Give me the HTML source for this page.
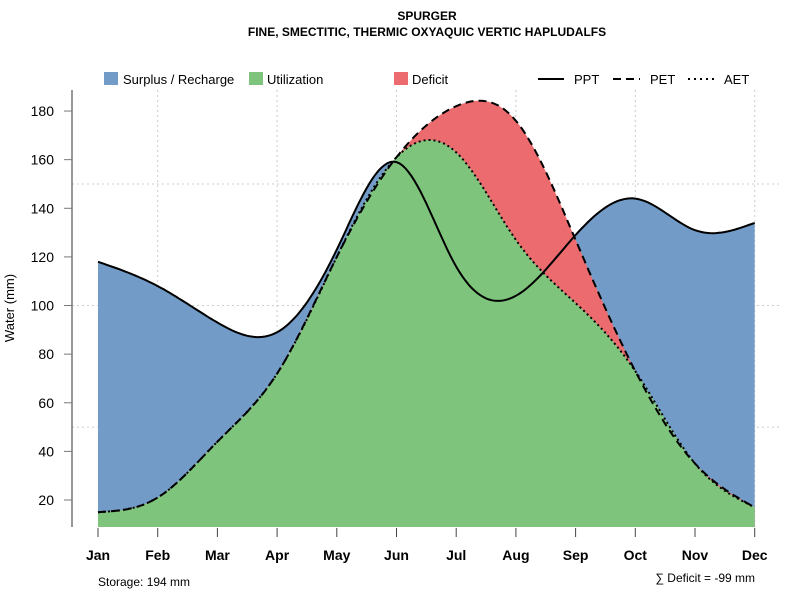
<!DOCTYPE html>
<html><head><meta charset="utf-8"><style>
body{margin:0;background:#fff;}
svg{display:block;font-family:"Liberation Sans",sans-serif;}
</style></head><body>
<svg id="chart" width="800" height="600">
<text x="427" y="20" text-anchor="middle" font-size="12" font-weight="bold">SPURGER</text>
<text x="427" y="36" text-anchor="middle" font-size="12" font-weight="bold">FINE, SMECTITIC, THERMIC OXYAQUIC VERTIC HAPLUDALFS</text>
<g id="grid"></g>
<g id="areas"></g>
<g id="lines"></g>
<g id="axes"></g>
<g font-size="13">
<rect x="104" y="72" width="14" height="13" fill="#729bc8"/>
<text x="123" y="84">Surplus / Recharge</text>
<rect x="249" y="72" width="14" height="13" fill="#7fc47c"/>
<text x="267" y="84">Utilization</text>
<rect x="394" y="72" width="14" height="13" fill="#ec6b6e"/>
<text x="412" y="84">Deficit</text>
<line x1="538" y1="79" x2="564" y2="79" stroke="#000" stroke-width="2"/>
<text x="574" y="84">PPT</text>
<line x1="613" y1="79" x2="640" y2="79" stroke="#000" stroke-width="2" stroke-dasharray="8,5"/>
<text x="650" y="84">PET</text>
<line x1="688" y1="79" x2="715" y2="79" stroke="#000" stroke-width="2" stroke-dasharray="2,4"/>
<text x="724" y="84">AET</text>
</g>
<text x="98" y="586" font-size="12">Storage: 194 mm</text>
<text x="755" y="582" font-size="12" text-anchor="end">∑ Deficit = -99 mm</text>
</svg>
<script>
const months=["Jan","Feb","Mar","Apr","May","Jun","Jul","Aug","Sep","Oct","Nov","Dec"];
const ppt=[118,108,93,89,123,159,116,104,129,144,131,134];
const pet=[15,21,44,72,120,161,182,176,127,73,35,17];
const aet=[15,21,44,72,120,161,163,127,101,73,35,17];
const yTicks=[20,40,60,80,100,120,140,160,180];
const NS="http://www.w3.org/2000/svg";
const X0=98,XSTEP=59.7,BOTTOM=527;
function x(i){return X0+i*XSTEP;}
function y(v){return 500-(v-20)*2.431;}
function el(tag,attrs,parent){const e=document.createElementNS(NS,tag);for(const k in attrs)e.setAttribute(k,attrs[k]);parent.appendChild(e);return e;}
function spline2(arr){const n=arr.length,M=new Array(n).fill(0);
 const a=[],b=[],c=[],d=[];
 for(let i=1;i<n-1;i++){a.push(1);b.push(4);c.push(1);d.push(6*(arr[i+1]-2*arr[i]+arr[i-1]));}
 const m=d.length;for(let i=1;i<m;i++){const w=a[i]/b[i-1];b[i]-=w*c[i-1];d[i]-=w*d[i-1];}
 const s=new Array(m);s[m-1]=d[m-1]/b[m-1];for(let i=m-2;i>=0;i--)s[i]=(d[i]-c[i]*s[i+1])/b[i];
 for(let i=0;i<m;i++)M[i+1]=s[i];return M;}
function curvePts(arr){const n=arr.length,M=spline2(arr),pts=[];
 for(let i=0;i<n-1;i++){for(let k=0;k<20;k++){const t=k/20;
  const v=(1-t)*arr[i]+t*arr[i+1]+((Math.pow(1-t,3)-(1-t))*M[i]+(Math.pow(t,3)-t)*M[i+1])/6;
  pts.push([x(i+t),y(v)]);}}
 pts.push([x(n-1),y(arr[n-1])]);return pts;}
function linePath(arr){return curvePts(arr).map((p,i)=>(i?"L":"M")+p[0].toFixed(1)+","+p[1].toFixed(1)).join("");}
function areaPath(arr){return linePath(arr)+"L"+x(arr.length-1)+","+BOTTOM+"L"+x(0)+","+BOTTOM+"Z";}
const grid=document.getElementById('grid'),areas=document.getElementById('areas'),lines=document.getElementById('lines'),axes=document.getElementById('axes');
[50,100,150].forEach(v=>{const g=el('line',{x1:72,x2:782,y1:y(v),y2:y(v),stroke:'#ccc','stroke-dasharray':'2,3'},grid);

});
months.forEach((m,i)=>{if(i%2===1){const g=el('line',{x1:x(i),x2:x(i),y1:90,y2:BOTTOM,stroke:'#ccc','stroke-dasharray':'2,3'},grid);

}});
const a1=el('path',{d:areaPath(ppt),fill:'#729bc8'},areas);


const a2=el('path',{d:areaPath(pet),fill:'#ec6b6e'},areas);


const a3=el('path',{d:areaPath(aet),fill:'#7fc47c'},areas);


const l1=el('path',{d:linePath(ppt),fill:'none',stroke:'#000','stroke-width':2},lines);


const l2=el('path',{d:linePath(pet),fill:'none',stroke:'#000','stroke-width':2,'stroke-dasharray':'8,5'},lines);


const l3=el('path',{d:linePath(aet),fill:'none',stroke:'#000','stroke-width':2,'stroke-dasharray':'2,3'},lines);


const ax=el('line',{x1:72,x2:72,y1:90,y2:BOTTOM,stroke:'#777','stroke-width':1.5},axes);


yTicks.forEach(v=>{const t=el('line',{x1:64,x2:72,y1:y(v),y2:y(v),stroke:'#777'},axes);


const tx=el('text',{x:54,y:y(v)+5,'text-anchor':'end','font-size':14},axes);tx.textContent=v;

});
months.forEach((m,i)=>{const t=el('line',{x1:x(i),x2:x(i),y1:BOTTOM+1,y2:BOTTOM+10,stroke:'#444'},axes);


const tx=el('text',{x:x(i),y:560,'text-anchor':'middle','font-size':14,'font-weight':'bold'},axes);tx.textContent=m;

});
const yt=el('text',{x:14,y:308,'text-anchor':'middle','font-size':13,transform:'rotate(-90 14 308)'},axes);yt.textContent='Water (mm)';


</script>
</body></html>
